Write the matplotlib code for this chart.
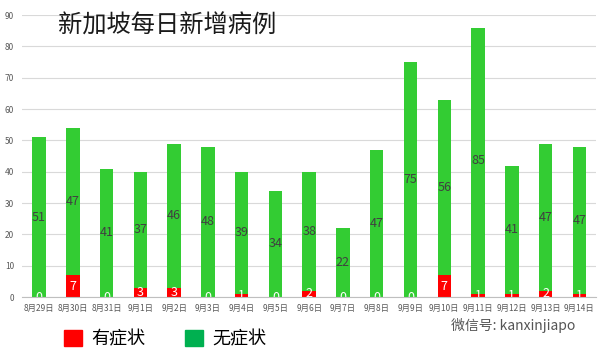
import numpy as np
import matplotlib.pyplot as plt
from matplotlib.patches import Patch

plt.rcParams['font.family'] = ['Noto Sans CJK SC', 'DejaVu Sans']

dates = ['8月29日', '8月30日', '8月31日', '9月1日', '9月2日', '9月3日', '9月4日',
         '9月5日', '9月6日', '9月7日', '9月8日', '9月9日', '9月10日', '9月11日',
         '9月12日', '9月13日', '9月14日']
symptomatic = np.array([0, 7, 0, 3, 3, 0, 1, 0, 2, 0, 0, 0, 7, 1, 1, 2, 1])
asymptomatic = np.array([51, 47, 41, 37, 46, 48, 39, 34, 38, 22, 47, 75, 56, 85, 41, 47, 47])

red = '#FF0000'
green = '#33CC33'

fig = plt.figure(figsize=(6.01, 3.52), dpi=100)
ax = fig.add_axes([0.037, 0.156, 0.955, 0.801])

x = np.arange(len(dates))
w = 0.4
ax.bar(x, symptomatic, w, color=red, zorder=3)
ax.bar(x, asymptomatic, w, bottom=symptomatic, color=green, zorder=3)

for i in x:
    ax.text(i, symptomatic[i] / 2, str(symptomatic[i]), ha='center', va='center',
            color='white', fontsize=9, zorder=4)
    ax.text(i, symptomatic[i] + asymptomatic[i] / 2, str(asymptomatic[i]),
            ha='center', va='center', color='#404040', fontsize=9, zorder=4)

ax.set_xlim(-0.5, len(dates) - 0.5)
ax.set_ylim(0, 90)
ax.set_yticks(range(0, 91, 10))
ax.set_xticks(x)
ax.set_xticklabels(dates)
ax.tick_params(axis='both', length=0, labelsize=6, labelcolor='#595959')
ax.tick_params(axis='x', pad=5)
ax.tick_params(axis='y', pad=6)
ax.grid(axis='y', color='#D9D9D9', linewidth=0.8, zorder=0)
for s in ['top', 'right', 'left']:
    ax.spines[s].set_visible(False)
ax.spines['bottom'].set_color('#BFBFBF')
ax.spines['bottom'].set_zorder(5)

ax.text(0.063, 1.01, '新加坡每日新增病例', transform=ax.transAxes, fontsize=17.5,
        color='#1a1a1a', va='top', ha='left')

handles = [Patch(color=red, label='有症状'), Patch(color='#00B050', label='无症状')]
fig.legend(handles=handles, loc='lower left', bbox_to_anchor=(0.08, -0.035), ncol=2,
           frameon=False, fontsize=13, handlelength=1.0, handleheight=1.0,
           columnspacing=2.2, handletextpad=0.5)

fig.text(0.75, 0.075, '微信号: kanxinjiapo', fontsize=10, color='#555555', va='center')

fig.savefig('out.png', dpi=100)
